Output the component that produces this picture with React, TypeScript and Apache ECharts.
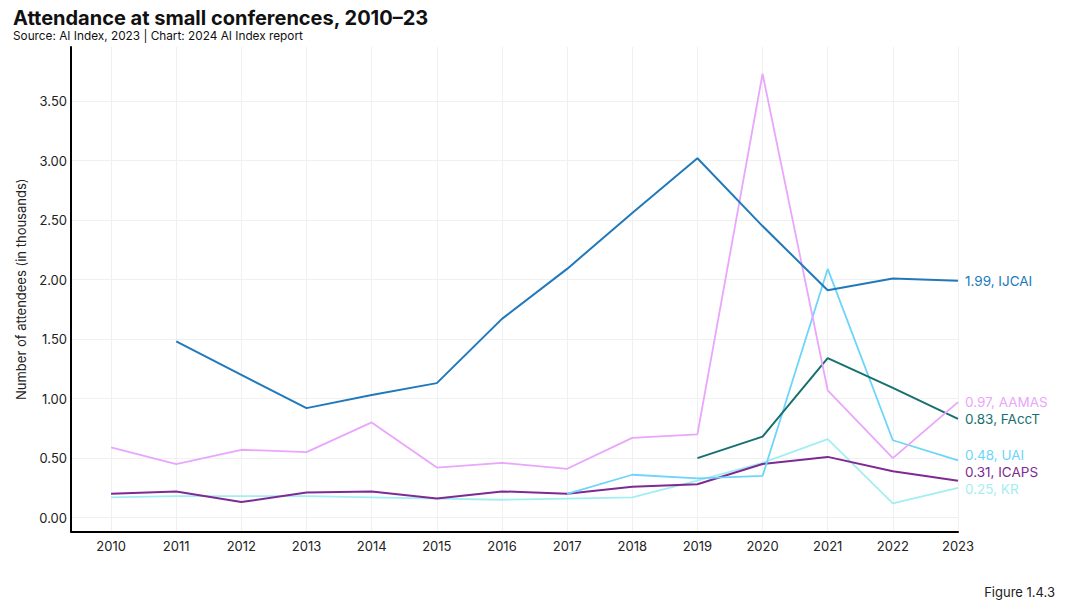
import React, { useEffect, useRef } from "react";
import * as echarts from "echarts";

const years = [2010, 2011, 2012, 2013, 2014, 2015, 2016, 2017, 2018, 2019, 2020, 2021, 2022, 2023];
const yTicks = [0, 0.5, 1, 1.5, 2, 2.5, 3, 3.5];

const ijcaiYears = [2011, 2012, 2013, 2014, 2015, 2016, 2017, 2018, 2019, 2020, 2021, 2022, 2023];
const ijcai = [1.48, 1.2, 0.92, 1.03, 1.13, 1.67, 2.09, 2.56, 3.02, 2.45, 1.91, 2.01, 1.99];

const aamasYears = years;
const aamas = [0.59, 0.45, 0.57, 0.55, 0.8, 0.42, 0.46, 0.41, 0.67, 0.7, 3.73, 1.07, 0.5, 0.97];

const facctYears = [2019, 2020, 2021, 2022, 2023];
const facct = [0.5, 0.68, 1.34, 1.09, 0.83];

const uaiYears = [2017, 2018, 2019, 2020, 2021, 2022, 2023];
const uai = [0.2, 0.36, 0.33, 0.35, 2.09, 0.65, 0.48];

const icapsYears = years;
const icaps = [0.2, 0.22, 0.13, 0.21, 0.22, 0.16, 0.22, 0.2, 0.26, 0.28, 0.45, 0.51, 0.39, 0.31];

const krYears = years;
const kr = [0.17, 0.18, 0.18, 0.18, 0.17, 0.16, 0.15, 0.16, 0.17, 0.31, 0.46, 0.66, 0.12, 0.25];

const FONT = "Inter, 'Noto Sans', sans-serif";

function makeSeries(name: string, xs: number[], ys: number[], color: string, width: number, dy: number) {
  return {
    name,
    type: "line",
    data: xs.map((x, i) => [x, ys[i]]),
    showSymbol: false,
    symbol: "none",
    lineStyle: { color, width },
    itemStyle: { color },
    emphasis: { disabled: true },
    endLabel: {
      show: true,
      color,
      fontFamily: FONT,
      fontSize: 13.5,
      distance: 7,
      offset: [0, dy],
      formatter: (p: any) => `${Number(p.value[1]).toFixed(2)}, ${name}`,
    },
  };
}

export default function App() {
  const ref = useRef<HTMLDivElement>(null);
  useEffect(() => {
    if (!ref.current) return;
    const chart = echarts.init(ref.current, undefined, { renderer: "svg" });
    chart.setOption({
      animation: false,
      backgroundColor: "#ffffff",
      title: [
        {
          text: "Attendance at small conferences, 2010–23",
          left: 8,
          top: 3,
          padding: 5,
          textStyle: { fontFamily: FONT, fontSize: 20, fontWeight: 700, color: "#111" },
        },
        {
          text: "Source: AI Index, 2023 | Chart: 2024 AI Index report",
          left: 8,
          top: 25,
          padding: 5,
          textStyle: { fontFamily: FONT, fontSize: 11.8, fontWeight: 400, color: "#111" },
        },
        {
          text: "Figure 1.4.3",
          right: 16,
          top: 580,
          textStyle: { fontFamily: FONT, fontSize: 13, fontWeight: 400, color: "#222" },
        },
      ],
      grid: { left: 71, right: 118, top: 47, bottom: 72.5, containLabel: false },
      xAxis: {
        type: "value",
        min: 2009.385,
        max: 2023,
        axisLine: { show: true, onZero: false, lineStyle: { color: "#000", width: 2 } },
        axisTick: { show: false, customValues: years },
        axisLabel: {
          customValues: years,
          color: "#222",
          fontFamily: FONT,
          fontSize: 13,
          margin: 8,
          formatter: (v: number) => String(Math.round(v)),
        },
        splitLine: { show: true, lineStyle: { color: "#f0f0f0", width: 1 } },
      },
      yAxis: {
        type: "value",
        min: -0.117,
        max: 3.955,
        name: "Number of attendees (in thousands)",
        nameLocation: "middle",
        nameGap: 44,
        nameRotate: 90,
        nameTextStyle: { fontFamily: FONT, fontSize: 13, color: "#222" },
        axisLine: { show: true, onZero: false, lineStyle: { color: "#000", width: 2 } },
        axisTick: { show: false, customValues: yTicks },
        axisLabel: {
          customValues: yTicks,
          color: "#222",
          fontFamily: FONT,
          fontSize: 13,
          margin: 4,
          formatter: (v: number) => v.toFixed(2),
        },
        splitLine: { show: true, lineStyle: { color: "#f0f0f0", width: 1 } },
      },
      series: [
        makeSeries("KR", krYears, kr, "#a3eef2", 1.8, 1),
        makeSeries("ICAPS", icapsYears, icaps, "#7e2a93", 2, -9),
        makeSeries("UAI", uaiYears, uai, "#6dd5fa", 1.8, -5),
        makeSeries("FAccT", facctYears, facct, "#17706f", 2, 0),
        makeSeries("AAMAS", aamasYears, aamas, "#e9a6fb", 1.8, 0),
        makeSeries("IJCAI", ijcaiYears, ijcai, "#2179bb", 2, 0),
      ],
    });
    return () => chart.dispose();
  }, []);
  return <div ref={ref} style={{ width: 1076, height: 604, position: "absolute", left: 0, top: 0 }} />;
}
